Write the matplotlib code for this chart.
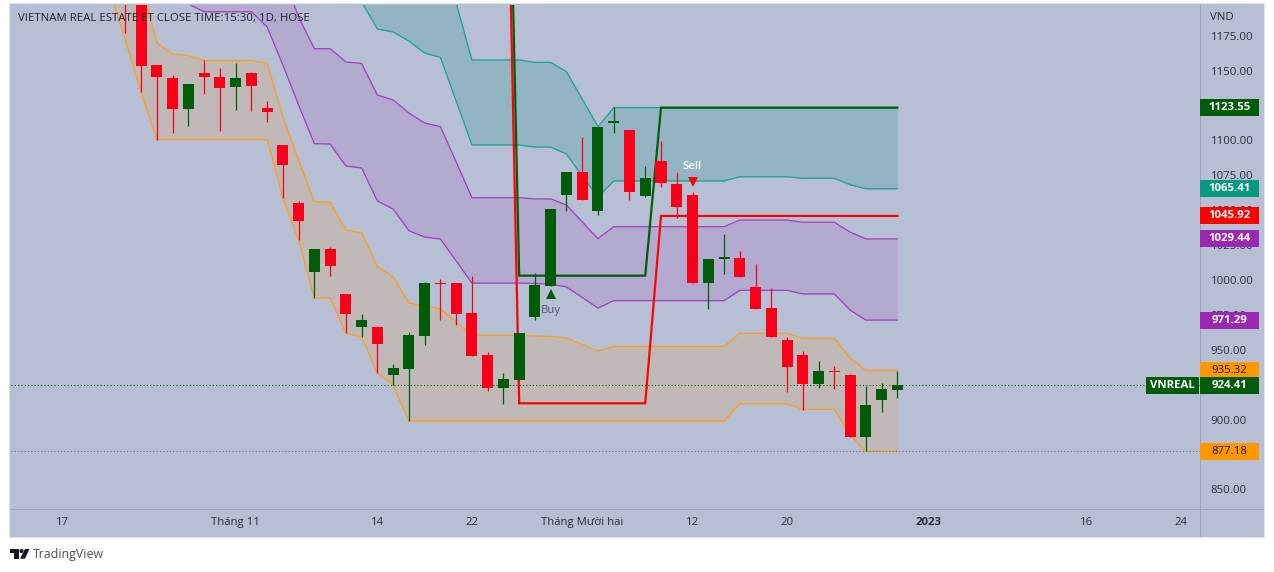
import numpy as np
import matplotlib
matplotlib.use("Agg")
import matplotlib.pyplot as plt
from matplotlib.patches import Rectangle, Polygon
from matplotlib.transforms import ScaledTranslation

plt.rcParams['font.family'] = ['Open Sans', 'DejaVu Sans']

# ---- data ----
opens = [1260, 1215, 1154.1, 1144.8, 1122.6, 1148.4, 1145.5, 1138.3, 1148.4, 1123.3,
         1096.8, 1055.2, 1005.7, 1022.2, 990, 966.3, 966.3, 931.9, 936.2, 959.9,
         998, 997.8, 976.3, 946.2, 922.6, 928.3, 973.5, 995.7, 1060.9, 1077.4,
         1049.5, 1112.6, 1107.5, 1060.2, 1085.3, 1068.8, 1060.9, 997.8, 1015, 1015.8,
         995, 979.9, 957, 946.2, 925.5, 935.1, 931.9, 887.5, 914, 921.2]
closes = [1215, 1153.6, 1145.5, 1122.6, 1140.5, 1145.5, 1137.6, 1144.8, 1139.1, 1120.4,
          1082.4, 1042.3, 1022.2, 1010, 975.8, 971.3, 954.1, 936.9, 960.6, 997.8,
          996.9, 975.6, 945.5, 922.6, 929, 962, 996.4, 1050.9, 1077.4, 1057.3,
          1109.7, 1113.8, 1063.1, 1073.1, 1069.5, 1052.3, 997.8, 1015.1, 1016.2, 1002.2,
          979.2, 959.1, 937.6, 925.5, 934.8, 934, 887.5, 910.4, 921.9, 924.41]
highs = [1270, 1220, 1154.1, 1146.9, 1140.5, 1157.7, 1152, 1155.5, 1149.1, 1128.3,
         1096.8, 1056.6, 1022.2, 1023.7, 990, 975.6, 966.3, 939.8, 962.7, 998.6,
         1000.7, 997.8, 1002.9, 948.4, 933.3, 962, 1005, 1050.9, 1077.4, 1102.5,
         1109.7, 1124, 1107.5, 1081.7, 1099.6, 1077.4, 1063.1, 1015.1, 1033, 1020.8,
         1011.5, 994.3, 959.1, 949.1, 941.9, 938.4, 932.6, 924, 926.2, 934.8]
lows = [1177, 1134.8, 1100.7, 1105.4, 1110.4, 1133.3, 1106.8, 1121.9, 1121.1, 1113.3,
        1058.8, 1028.7, 987.1, 1002.9, 962, 959.1, 933.3, 924.7, 898.9, 953.4,
        971.3, 967.7, 945.5, 920.4, 911.1, 928.3, 971.3, 995.7, 1049.5, 1057.3,
        1046.6, 1105.4, 1057.3, 1059.5, 1066.7, 1044.4, 997.8, 979.2, 1004.3, 1002.2,
        979.2, 959.1, 919.7, 906.8, 922.6, 921.9, 887.5, 877.4, 905.4, 915.4]

orange_start = -1
orange_upper = [1286.7, 1250.9, 1213.6, 1169.9, 1162, 1160.9, 1157.3, 1157.3, 1157.3, 1157.3,
                1155.5, 1116.8, 1086, 1055.9, 1055.9, 1035.8, 1033.9, 1009.5, 1002.4, 983.5,
                981.4, 979.4, 969.9, 960.4, 960.4, 960.4, 960.4, 959.9, 959.5, 958.4,
                953.8, 949.1, 952.3, 952.3, 952.3, 952.3, 952.3, 952.3, 952.3, 952.3,
                961.8, 961.8, 961.8, 961.8, 958.2, 958.2, 958.2, 944.1, 935.32, 935.32, 935.32]
orange_lower = [1207.2, 1172, 1134.8] + [1100.7] * 8 + [1058.8, 1028.7, 987.1, 987.1, 962, 959.1,
                933.3, 924.7] + [898.9] * 21 + [911.3] * 4 + [907.3] * 3 + [888.9, 877.18, 877.18, 877.18]

purple_start = 3
purple_upper = [1290] * 6 + [1251, 1218.6, 1188.5, 1165.8, 1165.8, 1156.3, 1155.2, 1132.6, 1129,
                1119.7, 1112.5, 1109.9, 1084.6, 1059, 1059, 1059, 1059, 1058.1, 1058.1, 1053.8,
                1041.6, 1029.6] + [1038.2] * 8 + [1043] * 4 + [1041.4] * 3 + [1034.4, 1029.44, 1029.44, 1029.44]
purple_lower = [1211.5, 1197.8, 1192.3, 1192.3, 1192.3, 1192.3, 1181.4, 1154.1, 1125.4, 1097.7,
                1097.5, 1081.7, 1080.3, 1056.6, 1050.9, 1035.3, 1030.8, 1029.4, 1013.6, 997.8,
                997.8, 997.8, 997.8, 997.5, 997.1, 995, 987.5, 979.9] + [985.2] * 8 + [992.6] * 4 + \
               [990] * 3 + [978.5, 971.29, 971.29, 971.29]

teal_start = 14
teal_upper = [1290] * 6 + [1229.4, 1198.6, 1157.7, 1157.7, 1157.7, 1157.7, 1156, 1156, 1149.3,
              1129.7, 1109.9] + [1123.55] * 19
teal_lower = [1222.2, 1199.3, 1179.9, 1177.8, 1171.3, 1162.7, 1159.6, 1128.3, 1096.8, 1096.8,
              1096.8, 1096.8, 1095.3, 1095.3, 1090.3, 1074.5, 1059.5] + [1071] * 8 + [1074] * 4 + \
             [1072.9] * 3 + [1068.3, 1065.41, 1065.41, 1065.41]

thick_start = 24
thick_red = [1454] + [911.6] * 9 + [1045.92] * 16
thick_green = [1510] + [1003.1] * 9 + [1123.55] * 16

buy_index = 27
sell_index = 36

y_ticks = [850, 875, 900, 925, 950, 975, 1000, 1025, 1050, 1075, 1100, 1125, 1150, 1175]
y_hidden = [875, 925, 1125]   # fully covered by price tags in the reference
x_ticks = [-4, 7, 16, 22, 29, 36, 42, 51, 61, 67]
x_labels = ['17', 'Tháng 11', '14', '22', 'Tháng Mười hai', '12', '20', '2023', '16', '24']

last_price = 924.41
low_price = 877.18
tags = [(1123.55, '#005C08', 'white'), (1065.41, '#089981', 'white'), (1045.92, '#FF0000', 'white'),
        (1029.44, '#9C27B0', 'white'), (971.29, '#9C27B0', 'white'), (935.32, '#FF9800', '#131722'),
        (924.41, '#005C08', 'white'), (877.18, '#FF9800', '#131722')]

# ---- style ----
W, H = 1274, 572
BG = '#B6BFD4'
RED = '#F90019'
GREEN = '#005C08'
TXT = '#2A2E39'
GRIDC = '#9EA6BC'
FS = 8.2
PX = 0.72

fig = plt.figure(figsize=(W / 100, H / 100), dpi=100, facecolor='white')
ax = fig.add_axes([11 / W, (H - 509) / H, 1189 / W, 504 / H])
ax.set_facecolor(BG)
ax.set_xlim(-7.255, 68.21)
ax.set_ylim(835.85, 1197.12)


def frect(x0, y0, x1, y1, color, z):
    r = Rectangle((x0 / W, 1 - y1 / H), (x1 - x0) / W, (y1 - y0) / H, transform=fig.transFigure,
                  facecolor=color, edgecolor='none', zorder=z)
    fig.add_artist(r)
    return r


# frame around the whole widget
frect(9, 3, 1265, 538, '#E0E3EB', -2)
frect(10, 4, 1264, 537, BG, -1)

for s in ax.spines.values():
    s.set_visible(False)


# bands
def band(start, upper, lower, fill, line):
    xs = np.arange(start, start + len(upper))
    ax.fill_between(xs, lower, upper, color=fill, lw=0, zorder=1)
    ax.plot(xs, upper, color=line, lw=1.3 * PX, zorder=2)
    ax.plot(xs, lower, color=line, lw=1.3 * PX, zorder=2)


band(orange_start, orange_upper, orange_lower, '#C1B9B7', '#FF9F1C')
band(purple_start, purple_upper, purple_lower, '#B3ABCF', '#A044BC')
band(teal_start, teal_upper, teal_lower, '#93B5C3', '#1FA296')

# dotted price lines
x0_, x1_ = ax.get_xlim()
ax.plot([x0_, x1_], [last_price, last_price], color=GREEN, lw=PX * 1.1, ls=(0, (1, 2)), zorder=3)
ax.plot([x0_, x1_], [low_price, low_price], color='#6A7080', lw=PX * 1.1, ls=(0, (1, 2)), zorder=3)

# thick step lines
xt = np.arange(thick_start, thick_start + len(thick_red))
ax.plot(xt, thick_red, color='#FF0000', lw=2.2 * PX, zorder=4, solid_joinstyle='miter')
ax.plot(xt, thick_green, color=GREEN, lw=2.2 * PX, zorder=4, solid_joinstyle='miter')

# candles
o, c, h, l = map(np.array, (opens, closes, highs, lows))
x = np.arange(len(o))
cols = [GREEN if cc > oo else RED for oo, cc in zip(o, c)]
ax.vlines(x, l, h, colors=cols, lw=1.25 * PX, zorder=5)
ax.bar(x, np.abs(c - o), bottom=np.minimum(o, c), width=0.70, color=cols, lw=0, zorder=6)

# buy / sell signals
ax.plot([buy_index], [lows[buy_index]], marker='^', ms=7.6, mew=0, color=GREEN, zorder=7,
        transform=ax.transData + ScaledTranslation(0, -8.5 / 100, fig.dpi_scale_trans))
ax.plot([sell_index], [highs[sell_index]], marker='v', ms=7.6, mew=0, color='#FF0000', zorder=7,
        transform=ax.transData + ScaledTranslation(0, 10 / 100, fig.dpi_scale_trans))
ax.annotate('Buy', xy=(buy_index, lows[buy_index]), xytext=(0, -24.5), textcoords='offset pixels',
            ha='center', va='center', fontsize=FS, color='#50586A', zorder=8)
ax.annotate('Sell', xy=(sell_index, highs[sell_index]), xytext=(0, 25.5), textcoords='offset pixels',
            ha='center', va='center', fontsize=FS, color='white', fontweight='semibold', zorder=8)

# axes
ax.yaxis.tick_right()
ax.set_yticks(y_ticks)
ax.set_yticklabels(['' if v in y_hidden else f'{v:.2f}' for v in y_ticks], fontsize=FS, color=TXT)
ax.tick_params(axis='y', length=0, pad=7.6)
ax.set_xticks(x_ticks)
ax.set_xticklabels(x_labels, fontsize=FS, color=TXT)
ax.tick_params(axis='x', length=0, pad=5.5)
for t in ax.get_xticklabels():
    if t.get_text() == '2023':
        t.set_fontweight('bold')

frect(1200, 4, 1201, 537, GRIDC, 3)
frect(10, 509, 1264, 510, GRIDC, 3)

fig.text(18 / W, 1 - 18.5 / H, 'VIETNAM REAL ESTATE ET CLOSE TIME:15:30, 1D, HOSE', fontsize=FS,
         color='#1E222D', va='center', ha='left', zorder=6)
fig.text(1210 / W, 1 - 17.5 / H, 'VND', fontsize=FS, color=TXT, va='center', ha='left', zorder=6)

# price tags
fig.canvas.draw()


def ypx(v):
    return H - ax.transData.transform((0, v))[1]


for v, col, tc in tags:
    yy = ypx(v)
    frect(1200, yy - 8.5, 1259, yy + 8.5, col, 5 if v != last_price else 6)
    fig.text(1229.5 / W, 1 - yy / H, f'{v:.2f}', fontsize=FS, color=tc, ha='center', va='center',
             fontweight='bold' if tc == 'white' else 'normal', zorder=7)
yy = ypx(last_price)
frect(1146, yy - 8.5, 1199, yy + 8.5, GREEN, 6)
fig.text(1172.5 / W, 1 - yy / H, 'VNREAL', fontsize=FS, color='white', ha='center', va='center',
         fontweight='bold', zorder=7)


# TradingView footer
def fpoly(pts, color):
    fig.add_artist(Polygon([(px / W, 1 - py / H) for px, py in pts], closed=True, facecolor=color,
                           edgecolor='none', transform=fig.transFigure, zorder=6))


fpoly([(10, 549), (19, 549), (19, 558.7), (14, 558.7), (14, 553), (10, 553)], '#131722')
fpoly([(25, 549), (29.5, 549), (25, 558.7), (20, 558.7)], '#131722')
fpoly([(21.5 + 2 * np.cos(a), 551 + 2 * np.sin(a)) for a in np.linspace(0, 2 * np.pi, 24)], '#131722')
fig.text(33 / W, 1 - 554.5 / H, 'TradingView', fontsize=8.9, color='#4A4F5C', va='center', ha='left')

fig.savefig('out.png', dpi=100, facecolor='white')
